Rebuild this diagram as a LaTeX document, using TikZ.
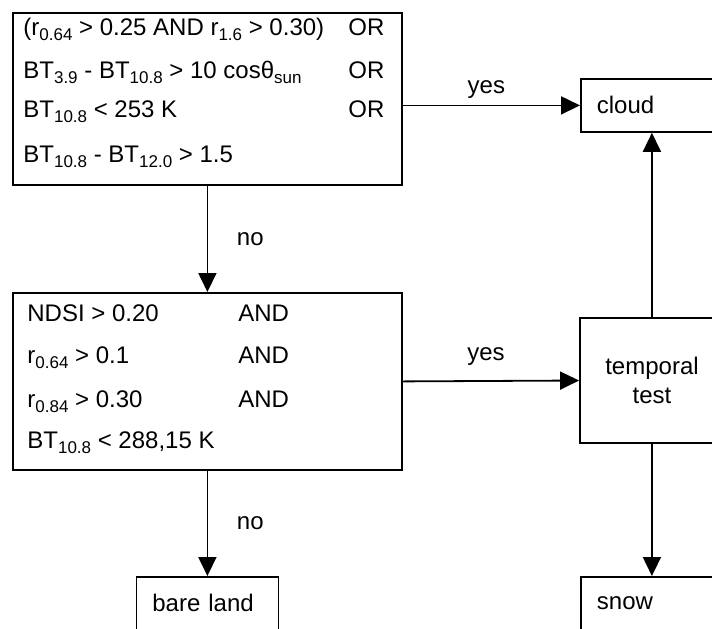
\documentclass[tikz,border=0pt]{standalone}
\usepackage{fontspec}
\setmainfont{Liberation Sans}
\usetikzlibrary{arrows.meta}
\newcommand{\idx}[1]{\raisebox{-2.5pt}{\fontsize{8.5}{9}\selectfont #1}}

\begin{document}
\begin{tikzpicture}
[
    x=0.5pt, y=-0.5pt,
    font=\fontsize{12}{14}\selectfont,
    cb/.style={draw, line width=0.9pt, inner sep=0pt, anchor=north west, minimum width=194.5pt}, % cb = condition box
    ln/.style={anchor=base west, inner sep=0pt},                                                  % ln = line of a condition
    rb/.style={draw, line width=0.9pt, anchor=north west, text width=55pt, inner xsep=8pt,
               minimum height=26.5pt, align=left},                                               % rb = result box
    ar/.style={line width=0.9pt, -{Triangle[length=9.5pt, width=9pt]}},                          % ar = arrow
]
\useasboundingbox (0,0) rectangle (712,628);
\clip (0,0) rectangle (712,628);

% first test
\node [cb, minimum height=86pt] (c1) at (12,12) {};
\node [ln] (c1a) at (23,35)  {(r\idx{0.64} > 0.25 AND r\idx{1.6} > 0.30)};
\node [ln] (c1b) at (23,78)  {BT\idx{3.9} - BT\idx{10.8} > 10 cosθ\idx{sun}};
\node [ln] (c1c) at (23,117) {BT\idx{10.8} < 253 K};
\node [ln] (c1d) at (23,162) {BT\idx{10.8} - BT\idx{12.0} > 1.5};
\foreach \y [count=\i] in {35,78,117}
    \node [ln] (or\i) at (348,\y) {OR};

% second test
\node [cb, minimum height=88.5pt] (c2) at (12,292) {};
\node [ln] (c2a) at (27,321) {NDSI > 0.20};
\node [ln] (c2b) at (27,363) {r\idx{0.64} > 0.1};
\node [ln] (c2c) at (27,407) {r\idx{0.84} > 0.30};
\node [ln] (c2d) at (27,448) {BT\idx{10.8} < 288,15 K};
\foreach \y [count=\i] in {321,363,407}
    \node [ln] (and\i) at (238,\y) {AND};

% results
\node [rb] (cloud) at (580,78) {cloud};
\node [draw, line width=0.9pt, minimum width=72pt, minimum height=62.5pt, align=center,
       font=\fontsize{12}{14.5}\selectfont] (temp) at (652,380.5) {temporal\\test};
\node [rb] (bare) at (135.5,576) {bare land};
\node [rb] (snow) at (580,576) {snow};

\draw [ar] (cloud.west -| c1.east) -- (cloud.west) node [midway, above=-0.5pt, xshift=-2.5pt] (y1) {yes};
\draw [ar] (c1.south) -- (c2.north) node [midway, right=11pt] (n1) {no};
\draw [ar] (c2.east) -- (temp.west) node [midway, above=3.75pt, xshift=-2.5pt] (y2) {yes};
\draw [ar] (c2.south) -- (bare.north) node [midway, right=11pt] (n2) {no};
\draw [ar] (temp.north) -- (cloud.south);
\draw [ar] (temp.south) -- (snow.north);
\end{tikzpicture}
\end{document}
